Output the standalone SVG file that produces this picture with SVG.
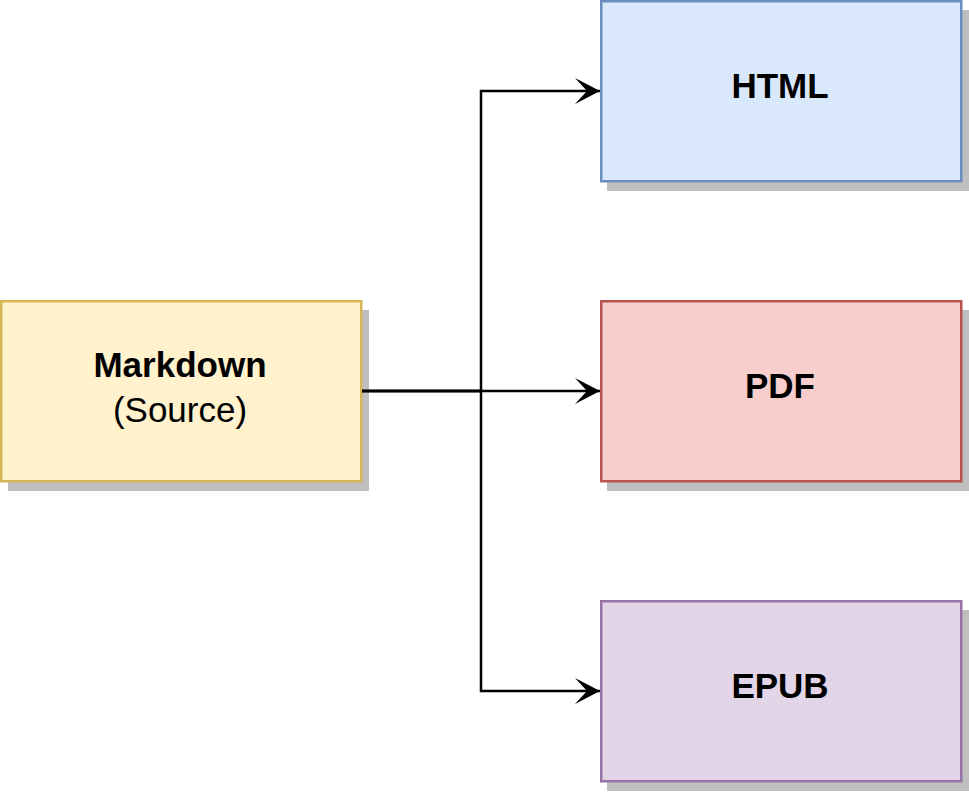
<svg xmlns="http://www.w3.org/2000/svg" width="969" height="792" viewBox="0 0 969 792">
<style>
.shadow{fill:#bfbfbf}
.box{stroke-width:2.5}
.lbl{font-family:"Liberation Sans",Arial,sans-serif;font-size:35px;fill:#000;text-anchor:middle}
.b{font-weight:bold}
.conn{fill:none;stroke:#000;stroke-width:2.5}
</style>
<defs>
<marker id="arr" markerUnits="userSpaceOnUse" markerWidth="30" markerHeight="30" viewBox="0 0 30 30" refX="25" refY="15" orient="auto">
<path d="M25,15 L0,2 L12,15 L0,28 Z" fill="#000"/>
</marker>
</defs>
<rect width="969" height="792" fill="#fff"/>
<g id="markdown">
<rect class="shadow" x="8" y="310" width="361" height="181"/>
<rect class="box" x="1.25" y="301.25" width="360" height="180" fill="#fff2cc" stroke="#d6b656"/>
<text class="lbl b" x="180" y="377">Markdown</text>
<text class="lbl" x="180" y="422">(Source)</text>
</g>
<g id="html">
<rect class="shadow" x="607" y="10" width="362" height="181"/>
<rect class="box" x="601.25" y="1.25" width="360" height="180" fill="#dae8fc" stroke="#6c8ebf"/>
<text class="lbl b" x="780" y="98">HTML</text>
</g>
<g id="pdf">
<rect class="shadow" x="607" y="310" width="362" height="181"/>
<rect class="box" x="601.25" y="301.25" width="360" height="180" fill="#f8cecc" stroke="#b85450"/>
<text class="lbl b" x="780" y="398">PDF</text>
</g>
<g id="epub">
<rect class="shadow" x="607" y="610" width="362" height="181"/>
<rect class="box" x="601.25" y="601.25" width="360" height="180" fill="#e1d5e7" stroke="#9673a6"/>
<text class="lbl b" x="780" y="698">EPUB</text>
</g>
<g id="connectors">
<path class="conn" d="M362,391 L481,391 L481,91 L600,91" marker-end="url(#arr)"/>
<path class="conn" d="M362,391 L600,391" marker-end="url(#arr)"/>
<path class="conn" d="M362,391 L481,391 L481,691 L600,691" marker-end="url(#arr)"/>
</g>
</svg>
